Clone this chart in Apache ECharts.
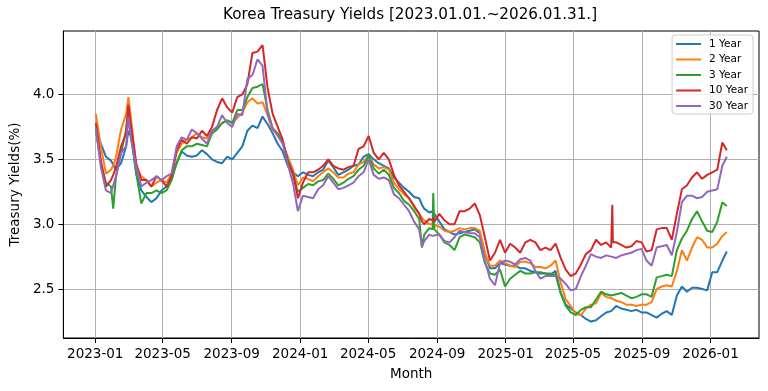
<!DOCTYPE html>
<html><head><meta charset="utf-8">
<script src="https://cdn.jsdelivr.net/npm/echarts@6/dist/echarts.min.js"></script>
<style>html,body{margin:0;padding:0;background:#fff}#c{width:768px;height:391px}</style>
</head><body><div id="c"></div>
<script>
const dates = [
'2023-01-02','2023-01-11','2023-01-20','2023-01-29','2023-02-02','2023-02-07','2023-02-16','2023-02-25','2023-03-01','2023-03-06',
'2023-03-15','2023-03-24','2023-04-02','2023-04-11','2023-04-20','2023-04-29','2023-05-08','2023-05-17','2023-05-26','2023-06-04',
'2023-06-13','2023-06-22','2023-07-01','2023-07-10','2023-07-19','2023-07-28','2023-08-06','2023-08-15','2023-08-24','2023-09-02',
'2023-09-11','2023-09-20','2023-09-29','2023-10-08','2023-10-17','2023-10-26','2023-11-04','2023-11-13','2023-11-22','2023-12-01',
'2023-12-10','2023-12-19','2023-12-28','2024-01-06','2024-01-15','2024-01-24','2024-02-02','2024-02-11','2024-02-20','2024-02-29',
'2024-03-09','2024-03-18','2024-03-27','2024-04-05','2024-04-14','2024-04-23','2024-05-02','2024-05-11','2024-05-20','2024-05-29',
'2024-06-07','2024-06-16','2024-06-25','2024-07-04','2024-07-13','2024-07-22','2024-07-31','2024-08-05','2024-08-09','2024-08-18',
'2024-08-24','2024-08-25','2024-08-27','2024-09-05','2024-09-14','2024-09-23','2024-10-02','2024-10-11','2024-10-20','2024-10-29',
'2024-11-07','2024-11-16','2024-11-25','2024-12-04','2024-12-13','2024-12-22','2024-12-31','2025-01-09','2025-01-18','2025-01-27',
'2025-02-05','2025-02-14','2025-02-23','2025-03-04','2025-03-13','2025-03-22','2025-03-31','2025-04-09','2025-04-18','2025-04-27',
'2025-05-06','2025-05-15','2025-05-24','2025-06-02','2025-06-11','2025-06-20','2025-06-29','2025-07-08','2025-07-10','2025-07-11',
'2025-07-17','2025-07-26','2025-08-04','2025-08-13','2025-08-22','2025-08-31','2025-09-09','2025-09-18','2025-09-27','2025-10-06',
'2025-10-15','2025-10-24','2025-11-02','2025-11-11','2025-11-20','2025-11-29','2025-12-08','2025-12-17','2025-12-26','2026-01-04',
'2026-01-13','2026-01-22','2026-01-30'
];
const y1 = [
3.74,3.62,3.52,3.49,3.46,3.42,3.47,3.6,3.72,3.67,
3.39,3.26,3.21,3.17,3.2,3.26,3.29,3.37,3.47,3.56,
3.53,3.52,3.53,3.57,3.54,3.5,3.48,3.47,3.52,3.5,
3.55,3.6,3.72,3.76,3.74,3.83,3.77,3.7,3.62,3.56,
3.45,3.4,3.37,3.4,3.38,3.37,3.4,3.42,3.49,3.44,
3.38,3.4,3.42,3.45,3.46,3.52,3.54,3.5,3.47,3.45,
3.43,3.36,3.32,3.28,3.25,3.21,3.2,3.15,3.12,3.09,
3.1,3.1,3.1,3.02,2.96,2.94,2.92,2.93,2.94,2.95,
2.96,2.93,2.78,2.66,2.66,2.7,2.69,2.68,2.68,2.66,
2.66,2.64,2.63,2.62,2.62,2.61,2.64,2.47,2.38,2.35,
2.32,2.3,2.27,2.25,2.26,2.29,2.32,2.33,2.34,2.34,
2.37,2.35,2.34,2.33,2.34,2.32,2.32,2.3,2.28,2.31,
2.33,2.3,2.45,2.52,2.48,2.51,2.51,2.5,2.49,2.63,
2.63,2.72,2.79
];
const y2 = [
3.85,3.6,3.39,3.42,3.45,3.52,3.73,3.85,3.98,3.8,
3.44,3.37,3.34,3.29,3.32,3.34,3.32,3.39,3.55,3.62,
3.65,3.67,3.7,3.67,3.66,3.72,3.74,3.78,3.8,3.78,
3.82,3.86,3.94,3.97,3.93,3.94,3.84,3.72,3.7,3.62,
3.52,3.42,3.3,3.36,3.35,3.33,3.37,3.4,3.43,3.4,
3.36,3.36,3.39,3.4,3.46,3.48,3.53,3.46,3.43,3.44,
3.42,3.32,3.27,3.23,3.2,3.13,3.08,3.05,3.03,3.0,
3.0,3.0,2.99,2.98,2.95,2.94,2.95,2.97,2.96,2.97,
2.97,2.95,2.78,2.68,2.68,2.72,2.7,2.68,2.67,2.71,
2.71,2.7,2.67,2.67,2.66,2.68,2.72,2.55,2.42,2.37,
2.31,2.3,2.35,2.38,2.39,2.47,2.44,2.43,2.43,2.42,
2.41,2.4,2.38,2.38,2.37,2.38,2.38,2.4,2.5,2.52,
2.53,2.52,2.64,2.8,2.72,2.82,2.9,2.88,2.82,2.82,
2.85,2.91,2.94
];
const y3 = [
3.73,3.47,3.32,3.29,3.12,3.37,3.55,3.73,3.9,3.7,
3.39,3.16,3.24,3.24,3.26,3.24,3.26,3.34,3.47,3.57,
3.6,3.6,3.62,3.61,3.6,3.7,3.73,3.78,3.8,3.78,
3.88,3.88,3.98,4.05,4.06,4.08,3.88,3.74,3.7,3.63,
3.5,3.38,3.25,3.28,3.31,3.3,3.33,3.34,3.39,3.35,
3.3,3.32,3.35,3.37,3.42,3.45,3.53,3.43,3.39,3.42,
3.38,3.28,3.24,3.18,3.15,3.1,3.04,2.82,2.92,2.97,
2.96,3.24,2.96,2.92,2.86,2.84,2.8,2.9,2.92,2.91,
2.9,2.86,2.7,2.62,2.61,2.65,2.52,2.58,2.61,2.64,
2.62,2.62,2.63,2.63,2.62,2.62,2.61,2.47,2.37,2.32,
2.3,2.34,2.36,2.36,2.42,2.48,2.46,2.45,2.46,2.46,
2.46,2.47,2.45,2.43,2.44,2.46,2.46,2.44,2.59,2.6,
2.61,2.6,2.8,2.89,2.95,3.04,3.1,3.02,2.95,2.94,
3.02,3.17,3.14
];
const y10 = [
3.78,3.49,3.29,3.34,3.38,3.44,3.6,3.7,3.92,3.75,
3.47,3.34,3.34,3.29,3.37,3.34,3.29,3.37,3.57,3.65,
3.62,3.67,3.66,3.72,3.68,3.75,3.88,3.97,3.9,3.86,
3.98,4.0,4.08,4.32,4.33,4.38,4.05,3.85,3.75,3.65,
3.48,3.4,3.2,3.32,3.4,3.4,3.42,3.45,3.5,3.45,
3.43,3.42,3.44,3.45,3.58,3.6,3.68,3.55,3.5,3.55,
3.5,3.38,3.3,3.25,3.2,3.14,3.08,3.02,3.0,3.04,
3.03,3.05,3.02,3.08,3.03,3.0,3.0,3.1,3.1,3.12,
3.16,3.07,2.9,2.72,2.78,2.88,2.78,2.85,2.82,2.78,
2.86,2.88,2.86,2.8,2.82,2.8,2.85,2.74,2.65,2.6,
2.62,2.69,2.77,2.8,2.88,2.84,2.86,2.82,3.15,2.86,
2.86,2.84,2.82,2.83,2.87,2.86,2.79,2.8,2.96,2.97,
2.97,2.88,3.08,3.27,3.3,3.36,3.4,3.35,3.38,3.4,
3.42,3.63,3.57
];
const y30 = [
3.74,3.44,3.26,3.24,3.3,3.37,3.55,3.6,3.83,3.65,
3.44,3.29,3.32,3.34,3.37,3.34,3.37,3.39,3.6,3.67,
3.65,3.73,3.7,3.66,3.62,3.72,3.75,3.84,3.78,3.75,
3.85,3.84,4.12,4.15,4.27,4.22,3.85,3.74,3.68,3.62,
3.46,3.32,3.1,3.22,3.21,3.2,3.27,3.3,3.37,3.32,
3.27,3.28,3.3,3.32,3.37,3.4,3.5,3.38,3.35,3.36,
3.34,3.23,3.2,3.15,3.1,3.02,2.96,2.83,2.87,2.92,
2.91,2.91,2.91,2.92,2.87,2.86,2.9,2.95,2.94,2.93,
2.93,2.9,2.72,2.58,2.53,2.7,2.72,2.71,2.69,2.73,
2.74,2.72,2.64,2.58,2.6,2.6,2.6,2.58,2.54,2.49,
2.5,2.6,2.68,2.77,2.75,2.74,2.76,2.75,2.75,2.74,
2.74,2.76,2.77,2.78,2.8,2.81,2.72,2.68,2.82,2.83,
2.84,2.76,2.94,3.17,3.22,3.22,3.2,3.21,3.25,3.26,
3.27,3.45,3.52
];
const seriesNames = ['1 Year','2 Year','3 Year','10 Year','30 Year'];
const seriesColors = ['#1f77b4','#ff7f0e','#2ca02c','#d62728','#9467bd'];
const xTickLabels = ['2023-01','2023-05','2023-09','2024-01','2024-05','2024-09','2025-01','2025-05','2025-09','2026-01'];
const yTicks = [2.5, 3.0, 3.5, 4.0];
const titleText = 'Korea Treasury Yields [2023.01.01.~2026.01.31.]';
const xName = 'Month';
const yName = 'Treasury Yields(%)';

function ts(s){ const p = s.split('-'); return Date.UTC(+p[0], +p[1]-1, p.length > 2 ? +p[2] : 1); }
const DAY = 86400000;
const xMin = ts('2023-01-01') - 56.8 * DAY;
const xMax = xMin + 1239.1 * DAY;
const xTickValues = xTickLabels.map(ts);
const allValues = [y1, y2, y3, y10, y30];
const FONT = 'DejaVu Sans';

const chart = echarts.init(document.getElementById('c'), null, {renderer: 'canvas'});
chart.setOption({
  animation: false,
  backgroundColor: '#ffffff',
  title: {
    text: titleText, left: 410, top: 6, textAlign: 'center',
    padding: 0,
    textStyle: {fontFamily: FONT, fontSize: 15.2, fontWeight: 'normal', color: '#000', lineHeight: 18}
  },
  legend: {
    orient: 'vertical', right: 15, top: 35,
    padding: [3, 5, 2, 4],
    itemGap: 3.5, itemWidth: 25, itemHeight: 2,
    backgroundColor: 'rgba(255,255,255,0.8)', borderColor: '#cccccc', borderWidth: 1, borderRadius: 3,
    data: seriesNames.map(n => ({name: n, icon: 'rect'})),
    textStyle: {fontFamily: FONT, fontSize: 10.5, color: '#000', lineHeight: 12, padding: [0, 0, 0, 3]}
  },
  grid: {left: 61, right: 9, top: 31, bottom: 53, show: true, borderColor: '#000', borderWidth: 1, backgroundColor: 'transparent'},
  xAxis: {
    type: 'value', min: xMin, max: xMax,
    name: xName, nameLocation: 'middle', nameGap: 29.5,
    nameTextStyle: {fontFamily: FONT, fontSize: 13.5, color: '#000'},
    axisLine: {show: true, lineStyle: {color: '#000', width: 1}},
    axisTick: {show: true, customValues: xTickValues, length: 5, lineStyle: {color: '#000', width: 1}},
    axisLabel: {customValues: xTickValues, margin: 9, fontFamily: FONT, fontSize: 13.5, color: '#000',
      formatter: v => { const i = xTickValues.indexOf(v); return i >= 0 ? xTickLabels[i] : ''; }},
    splitLine: {show: true, lineStyle: {color: '#b0b0b0', width: 1}}
  },
  yAxis: {
    type: 'value', min: 2.123, max: 4.489,
    name: yName, nameLocation: 'middle', nameGap: 34, nameRotate: 90,
    nameTextStyle: {fontFamily: FONT, fontSize: 13.5, color: '#000'},
    axisLine: {show: true, lineStyle: {color: '#000', width: 1}},
    axisTick: {show: true, customValues: yTicks, length: 5, lineStyle: {color: '#000', width: 1}},
    axisLabel: {customValues: yTicks, margin: 9, fontFamily: FONT, fontSize: 13.5, color: '#000',
      formatter: v => Number(v).toFixed(1)},
    splitLine: {show: true, lineStyle: {color: '#b0b0b0', width: 1}}
  },
  series: seriesNames.map((n, k) => ({
    name: n, type: 'line', showSymbol: false, symbol: 'none',
    color: seriesColors[k],
    lineStyle: {width: 2, color: seriesColors[k]},
    emphasis: {disabled: true},
    data: dates.map((d, i) => [ts(d), allValues[k][i]])
  }))
});
</script>
</body></html>
